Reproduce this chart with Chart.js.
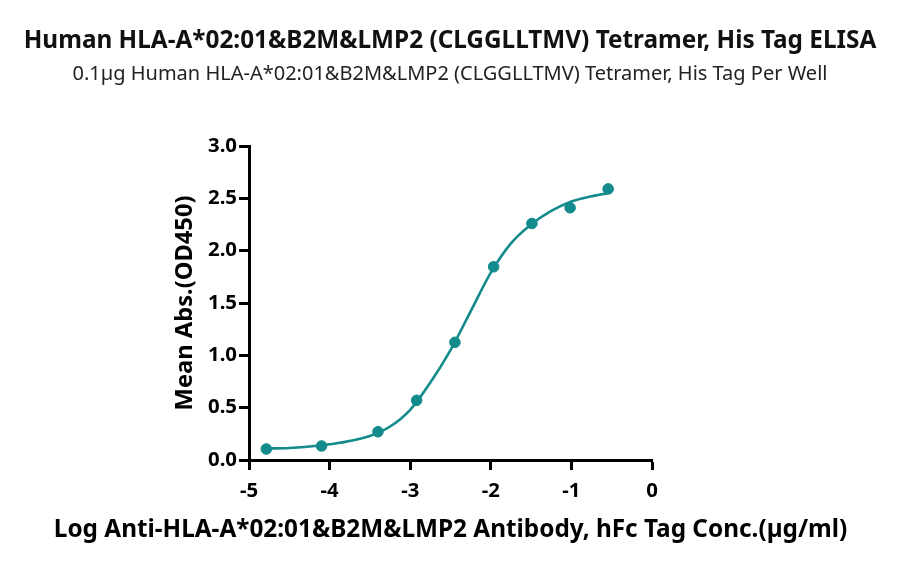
<!DOCTYPE html>
<html><head><meta charset="utf-8">
<script src="https://cdn.jsdelivr.net/npm/chart.js@4"></script>
<style>html,body{margin:0;padding:0;background:#fff;}#wrap{width:900px;height:566px;}</style>
</head><body><div id="wrap"><canvas id="c" width="900" height="566"></canvas></div>
<script>
const pointX = [-4.785, -4.10, -3.40, -2.92, -2.445, -1.965, -1.49, -1.016, -0.544];
const pointY = [0.105, 0.134, 0.27, 0.57, 1.124, 1.846, 2.26, 2.41, 2.59];
const curveX = [-4.785, -4.5, -4.0, -3.5, -3.25, -3.0, -2.75, -2.5, -2.25, -2.0, -1.75, -1.5, -1.25, -1.0, -0.75, -0.544];
const curveY = [0.11, 0.115, 0.15, 0.23, 0.32, 0.48, 0.74, 1.05, 1.42, 1.79, 2.07, 2.25, 2.38, 2.47, 2.52, 2.55];
const xTicks = [-5, -4, -3, -2, -1, 0];
const yTicks = [0, 0.5, 1, 1.5, 2, 2.5, 3];
const titleText = 'Human HLA-A*02:01&B2M&LMP2 (CLGGLLTMV) Tetramer, His Tag ELISA';
const subtitleText = '0.1µg Human HLA-A*02:01&B2M&LMP2 (CLGGLLTMV) Tetramer, His Tag Per Well';
const xTitle = 'Log Anti-HLA-A*02:01&B2M&LMP2 Antibody, hFc Tag Conc.(µg/ml)';
const yTitle = 'Mean Abs.(OD450)';
const teal = '#138a8c';
const FONT = 'Noto Sans';

// fit font sizes to measured text widths in the reference
const mctx = document.createElement('canvas').getContext('2d');
function fit(text, weight, target) {
  mctx.font = `${weight} 100px "${FONT}"`;
  return 100 * target / mctx.measureText(text).width;
}
const sTitle = fit(titleText, 'bold', 853);
const sSub = fit(subtitleText, 'normal', 755);
const sX = fit(xTitle, 'bold', 794);
const sY = fit(yTitle, 'bold', 215);
const sTick = fit('0.0', 'bold', 29);

const PAD = { left: 171, right: 248, top: 146, bottom: 24 };
const AREA = { left: 249, bottom: 460 };

const pts = pointX.map((x, i) => ({x, y: pointY[i]}));
const crv = curveX.map((x, i) => ({x, y: curveY[i]}));

const textPlugin = {
  id: 'texts',
  afterDraw(chart) {
    const ctx = chart.ctx;
    const ca = chart.chartArea;
    ctx.save();
    ctx.textAlign = 'center';
    ctx.textBaseline = 'alphabetic';
    ctx.fillStyle = '#111';
    ctx.font = `bold ${sTitle}px "${FONT}"`;
    ctx.fillText(titleText, 450, 48);
    ctx.fillStyle = '#222';
    ctx.font = `normal ${sSub}px "${FONT}"`;
    ctx.fillText(subtitleText, 450, 80);
    ctx.fillStyle = '#000';
    ctx.font = `bold ${sX}px "${FONT}"`;
    ctx.fillText(xTitle, (ca.left + ca.right) / 2, 537);
    ctx.restore();
  }
};

new Chart(document.getElementById('c'), {
  type: 'scatter',
  data: { datasets: [
    { data: crv, showLine: true, borderColor: teal, borderWidth: 2.6, pointRadius: 0, cubicInterpolationMode: 'monotone', fill: false },
    { data: pts, showLine: false, backgroundColor: teal, borderColor: teal, pointRadius: 5.3, pointHoverRadius: 5.3 }
  ]},
  plugins: [textPlugin],
  options: {
    responsive: false, animation: false, devicePixelRatio: 1,
    layout: { padding: PAD },
    plugins: { legend: { display: false }, tooltip: { enabled: false }, title: { display: false } },
    scales: {
      x: { type: 'linear', min: -5, max: 0,
        afterBuildTicks: s => { s.ticks = xTicks.map(v => ({value: v})); },
        afterFit: s => { s.height = 566 - PAD.bottom - AREA.bottom; },
        border: { display: true, color: '#000', width: 3 },
        grid: { drawOnChartArea: false, drawTicks: true, tickLength: 10, tickWidth: 3, tickColor: '#000' },
        ticks: { color: '#000', font: { family: FONT, size: sTick, weight: 'bold' }, padding: 9, maxRotation: 0, callback: v => String(v) },
        title: { display: false }
      },
      y: { type: 'linear', min: 0, max: 3,
        afterBuildTicks: s => { s.ticks = yTicks.map(v => ({value: v})); },
        afterFit: s => { s.width = AREA.left - PAD.left; },
        border: { display: true, color: '#000', width: 3 },
        grid: { drawOnChartArea: false, drawTicks: true, tickLength: 10, tickWidth: 3, tickColor: '#000' },
        ticks: { color: '#000', font: { family: FONT, size: sTick, weight: 'bold' }, padding: 2, callback: v => Number(v).toFixed(1) },
        title: { display: true, text: yTitle, color: '#000', font: { family: FONT, size: sY, weight: 'bold' }, padding: 0 }
      }
    }
  }
});
</script></body></html>
